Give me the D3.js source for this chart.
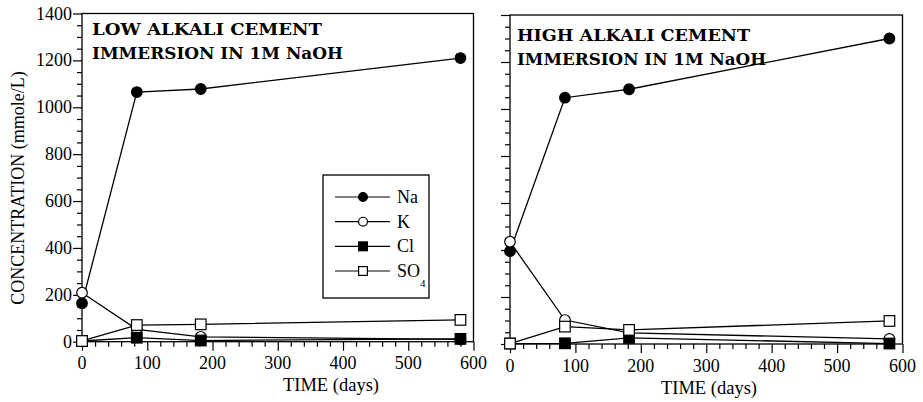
<!DOCTYPE html>
<html>
<head>
<meta charset="utf-8">
<script src="https://cdn.jsdelivr.net/npm/d3@7"></script>
<style>
	body { margin: 0; background: #fff; }
	text { font-family: 'Liberation Serif', 'DejaVu Serif', 'Times New Roman', Times, serif; fill: #000; }
	.frame { fill: none; stroke: #000; stroke-width: 1.3; }
	.series { fill: none; stroke: #000; stroke-width: 1.3; }
	.tick-label { font-size: 18px; }
	.axis-title { font-size: 18px; }
	.panel-title { font-size: 17px; font-weight: bold; font-family: 'DejaVu Serif', serif; }
	.legend-text { font-size: 18px; }
</style>
</head>
<body>
<svg id="chart" width="923" height="402"></svg>
<script>
// sampling times (days)
var days = [0, 84, 182, 580];

// low alkali cement, mmole/L
var lowNa = [164, 1065, 1078, 1210];
var lowK = [209, 53, 21, 10];
var lowCl = [3, 17, 5, 12];
var lowSO4 = [3, 71, 74, 93];

// high alkali cement, mmole/L
var highNa = [395, 1048, 1084, 1300];
var highK = [435, 102, 47, 22];
var highCl = [2, 3, 26, 2];
var highSO4 = [2, 74, 60, 98];

var seriesNames = ['Na', 'K', 'Cl', 'SO4'];
var xTicks = [0, 100, 200, 300, 400, 500, 600];
var yTicks = [0, 200, 400, 600, 800, 1000, 1200, 1400];
var panelTitles = [
	['LOW ALKALI CEMENT', 'IMMERSION IN 1M NaOH'],
	['HIGH ALKALI CEMENT', 'IMMERSION IN 1M NaOH']
];

(function() {
	var svg = d3.select('#chart');

	var markers = {
		Na: { shape: 'circle', fill: '#000' },
		K: { shape: 'circle', fill: '#fff' },
		Cl: { shape: 'square', fill: '#000' },
		SO4: { shape: 'square', fill: '#fff' }
	};

	var panels = [
		{ left: 82, right: 473.5, top: 13.5, bottom: 341.7, yLabels: true,
			titleX: 92, titleY: 35, titleW: [230, 251], timeX: 331, timeY: 391,
			data: { Na: lowNa, K: lowK, Cl: lowCl, SO4: lowSO4 }, legend: true },
		{ left: 510, right: 902.5, top: 15, bottom: 344, yLabels: false,
			titleX: 517, titleY: 41, titleW: [233, 249], timeX: 709, timeY: 394,
			data: { Na: highNa, K: highK, Cl: highCl, SO4: highSO4 }, legend: false }
	];

	panels.forEach(function(p, pi) {
		var x = d3.scaleLinear().domain([0, 600]).range([p.left, p.right]);
		var y = d3.scaleLinear().domain([0, 1400]).range([p.bottom, p.top]);
		var g = svg.append('g');

		// frame
		g.append('rect')
			.attr('class', 'frame')
			.attr('x', p.left)
			.attr('y', p.top)
			.attr('width', p.right - p.left)
			.attr('height', p.bottom - p.top);

		// x axis ticks (minor every 20 days)
		var xAxis = d3.axisBottom(x)
			.tickValues(d3.range(0, 601, 20))
			.tickSize(5)
			.tickFormat('');
		var xg = g.append('g')
			.attr('transform', 'translate(0,' + p.bottom + ')')
			.call(xAxis);
		xg.select('.domain').remove();
		xg.selectAll('.tick line')
			.attr('stroke', '#000')
			.attr('stroke-width', 1.2)
			.attr('y2', function(d) { return d % 100 === 0 ? 9 : 5; });

		g.selectAll('.xlab')
			.data(xTicks)
			.enter()
			.append('text')
			.attr('class', 'tick-label')
			.attr('x', function(d) { return x(d); })
			.attr('y', p.bottom + 27.5)
			.attr('text-anchor', 'middle')
			.text(function(d) { return d; });

		// y axis ticks (minor every 50)
		var yAxis = d3.axisLeft(y)
			.tickValues(d3.range(0, 1401, 50))
			.tickSize(5)
			.tickFormat('');
		var yg = g.append('g')
			.attr('transform', 'translate(' + p.left + ',0)')
			.call(yAxis);
		yg.select('.domain').remove();
		yg.selectAll('.tick line')
			.attr('stroke', '#000')
			.attr('stroke-width', 1.2)
			.attr('x2', function(d) { return d % 200 === 0 ? -9 : -5; });

		if (p.yLabels) {
			g.selectAll('.ylab')
				.data(yTicks)
				.enter()
				.append('text')
				.attr('class', 'tick-label')
				.attr('x', p.left - 10)
				.attr('y', function(d) { return y(d) + 6; })
				.attr('text-anchor', 'end')
				.text(function(d) { return d; });

			g.append('text')
				.attr('class', 'axis-title')
				.attr('transform', 'translate(24,188) rotate(-90)')
				.attr('text-anchor', 'middle')
				.text('CONCENTRATION (mmole/L)');
		}

		g.append('text')
			.attr('class', 'axis-title')
			.attr('x', p.timeX)
			.attr('y', p.timeY)
			.attr('text-anchor', 'middle')
			.style('font-size', '18.5px')
			.text('TIME (days)');

		// panel title
		g.selectAll('.ptitle')
			.data(panelTitles[pi])
			.enter()
			.append('text')
			.attr('class', 'panel-title')
			.attr('x', p.titleX)
			.attr('y', function(d, i) { return p.titleY + i * 23.5; })
			.attr('textLength', function(d, i) { return p.titleW[i]; })
			.attr('lengthAdjust', 'spacingAndGlyphs')
			.text(function(d) { return d; });

		// series
		var line = d3.line()
			.x(function(d) { return x(d[0]); })
			.y(function(d) { return y(d[1]); });

		seriesNames.forEach(function(name) {
			var pts = days.map(function(t, i) { return [t, p.data[name][i]]; });
			g.append('path')
				.attr('class', 'series')
				.attr('d', line(pts));
		});

		seriesNames.forEach(function(name) {
			var pts = days.map(function(t, i) { return [t, p.data[name][i]]; });
			drawMarkers(g, pts, markers[name], x, y, 5.3);
		});

		if (p.legend) {
			drawLegend(g);
		}
	});

	function drawMarkers(g, pts, m, x, y, r)
	{
		var sel = g.append('g').selectAll('.m').data(pts).enter();
		if (m.shape === 'circle') {
			sel.append('circle')
				.attr('cx', function(d) { return x(d[0]); })
				.attr('cy', function(d) { return y(d[1]); })
				.attr('r', r)
				.attr('fill', m.fill)
				.attr('stroke', '#000')
				.attr('stroke-width', 1.2);
		} else {
			sel.append('rect')
				.attr('x', function(d) { return x(d[0]) - r; })
				.attr('y', function(d) { return y(d[1]) - r; })
				.attr('width', r * 2)
				.attr('height', r * 2)
				.attr('fill', m.fill)
				.attr('stroke', '#000')
				.attr('stroke-width', 1.2);
		}
	}

	function drawLegend(g)
	{
		var lx = 323, ly = 175, lw = 106, lh = 123;
		var rowY = d3.scaleLinear().domain([0, 3]).range([ly + 22, ly + 96]);
		var ident = d3.scaleLinear().domain([0, 1]).range([0, 1]);
		var lg = g.append('g');

		lg.append('rect')
			.attr('class', 'frame')
			.attr('x', lx)
			.attr('y', ly)
			.attr('width', lw)
			.attr('height', lh)
			.attr('fill', '#fff');

		seriesNames.forEach(function(name, i) {
			var cy = rowY(i);
			lg.append('line')
				.attr('x1', lx + 12)
				.attr('x2', lx + 67)
				.attr('y1', cy)
				.attr('y2', cy)
				.attr('stroke', '#000')
				.attr('stroke-width', 1.2);
			drawMarkers(lg, [[lx + 40, cy]], markers[name], ident, ident, 4.4);

			var t = lg.append('text')
				.attr('class', 'legend-text')
				.attr('x', lx + 74)
				.attr('y', cy + 6);
			if (name === 'SO4') {
				t.text('SO');
				t.append('tspan')
					.attr('dy', 10)
					.style('font-size', '11px')
					.text('4');
			} else {
				t.text(name);
			}
		});
	}
})();
</script>
</body>
</html>
